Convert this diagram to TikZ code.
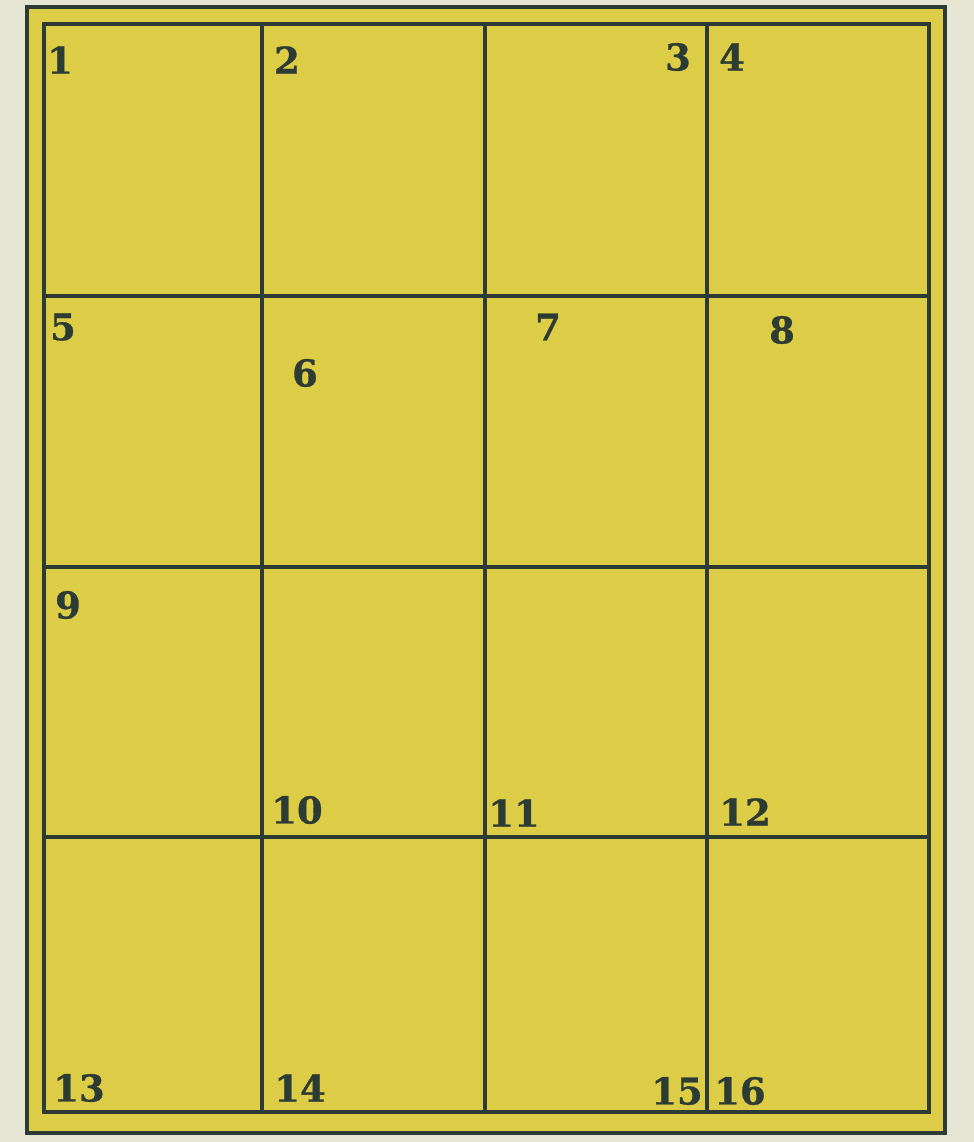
\documentclass[tikz,border=0pt]{standalone}
\usepackage{fontspec}
\setmainfont{DejaVu Serif}
\newfontfamily\sheetfont{DejaVu Serif Bold}[FakeBold=0.8]
\usepackage{xcolor}
\usepackage{tikz}
\usetikzlibrary{positioning}
\definecolor{sheetpaper}{RGB}{230,228,210}
\definecolor{sheetyellow}{RGB}{221,205,70}
\definecolor{sheetink}{RGB}{44,60,52}
\tikzset{
    sheetframe/.style={draw=sheetink, line width=1.3pt},
    sheetgrid/.style={draw=sheetink, line width=1.1pt},
    sheetnum/.style={font=\sheetfont\fontsize{10.5}{11}\selectfont, text=sheetink, inner sep=0pt}
}

\begin{document}
\begin{tikzpicture}[x=0.01cm, y=-0.01cm]
    \fill[sheetpaper] (0,0) rectangle (974,1142);
    \useasboundingbox (0,0) rectangle (974,1142);
    \fill[sheetyellow] (27,7) rectangle (945,1133);
    \draw[sheetframe] (27,7) rectangle (945,1133);
    \draw[sheetframe] (44,24) rectangle (929,1112);
    \foreach \gx in {262,485,707} {
        \draw[sheetgrid] (\gx,24) -- (\gx,1112);
    }
    \foreach \gy in {296,567,837} {
        \draw[sheetgrid] (44,\gy) -- (929,\gy);
    }
    \node[sheetnum] (n1) at (60,60) {1};
    \node[sheetnum] (n2) at (287,60) {2};
    \node[sheetnum] (n3) at (678,57) {3};
    \node[sheetnum] (n4) at (732,57) {4};
    \node[sheetnum] (n5) at (63,327) {5};
    \node[sheetnum] (n6) at (305,373) {6};
    \node[sheetnum] (n7) at (548,327) {7};
    \node[sheetnum] (n8) at (782,330) {8};
    \node[sheetnum] (n9) at (68,605) {9};
    \node[sheetnum] (n10) at (297,810) {10};
    \node[sheetnum] (n11) at (514,813) {11};
    \node[sheetnum] (n12) at (745,812) {12};
    \node[sheetnum] (n13) at (79,1088) {13};
    \node[sheetnum] (n14) at (300,1088) {14};
    \node[sheetnum] (n15) at (677,1091) {15};
    \node[sheetnum] (n16) at (740,1091) {16};
\end{tikzpicture}
\end{document}
